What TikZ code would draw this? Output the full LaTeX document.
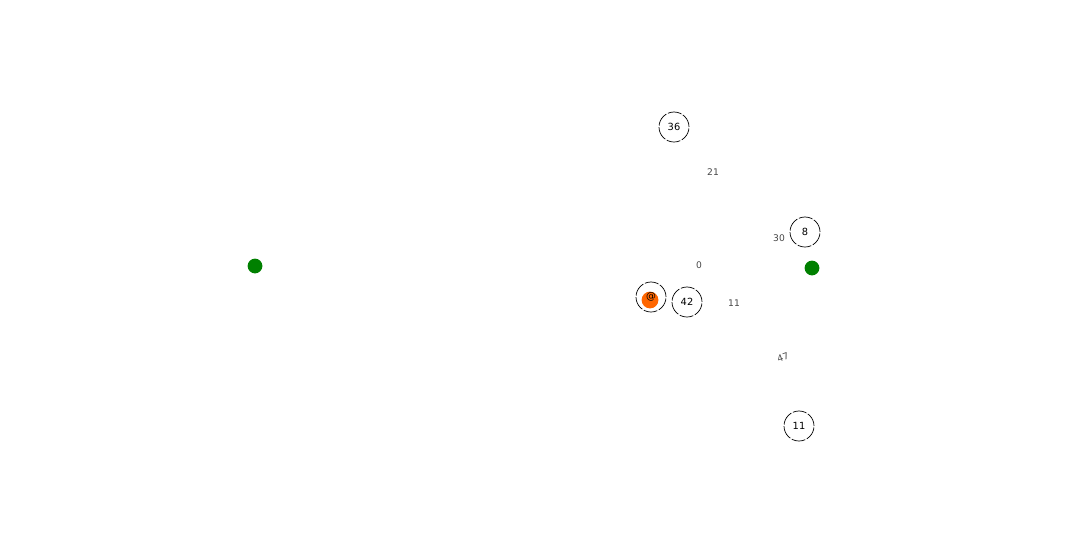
\documentclass[tikz,border=0pt]{standalone}
\usepackage{tikz}
\usepackage{xcolor}
\usepackage{fontspec}
\setmainfont{DejaVu Sans}
\usetikzlibrary{positioning}
\definecolor{dgrn} {RGB}{  0,128,  0}
\definecolor{orng} {RGB}{255,102,  0}
\definecolor{lgry} {RGB}{ 70, 70, 70}
\tikzset{
  % Dashed ring node
  CN/.style={circle,draw=black,fill=white,minimum size=0.75cm,inner sep=0pt,
             font=\fontsize{7}{8}\selectfont,line width=0.5pt,
             dash pattern=on 10pt off 1.2pt},
  % Green dot
  GD/.style={circle,fill=dgrn,minimum size=0.37cm,inner sep=0pt},
  % Orange dot
  OD/.style={circle,fill=orng,minimum size=0.42cm,inner sep=0pt},
  % Grey free label
  LB/.style={font=\fontsize{6.5}{7}\selectfont,text=lgry,inner sep=1pt},
}
\begin{document}
\begin{tikzpicture}[x=0.025cm,y=-0.025cm]
      \useasboundingbox (0,0) rectangle (1080,540);
      % Green dots
      \node[GD] at (255,266) (g1) {};
      \node[GD] at (812,268) (g2) {};
      % Rings
      \node[CN] at (674,127) (n36) {36};
      \node[CN] at (805,232) (n8)  {8};
      \node[CN] at (687,302) (n42) {42};
      \node[CN] at (799,426) (n11) {11};
      \node[CN] at (651,297) (nat) {};
      \node[OD] at (650,300) (oat) {};
      \node[font=\fontsize{7}{8}\selectfont,inner sep=0pt] at (651,297) (tat) {@};
      % Free labels
      \node[LB] at (713,172) (l21) {21};
      \node[LB] at (779,238) (l30) {30};
      \node[LB] at (699,265) (l0)  {0};
      \node[LB] at (734,303) (l11) {11};
      \node[LB,rotate=20] at (783,357) (l47) {47};
    \end{tikzpicture}
\end{document}
